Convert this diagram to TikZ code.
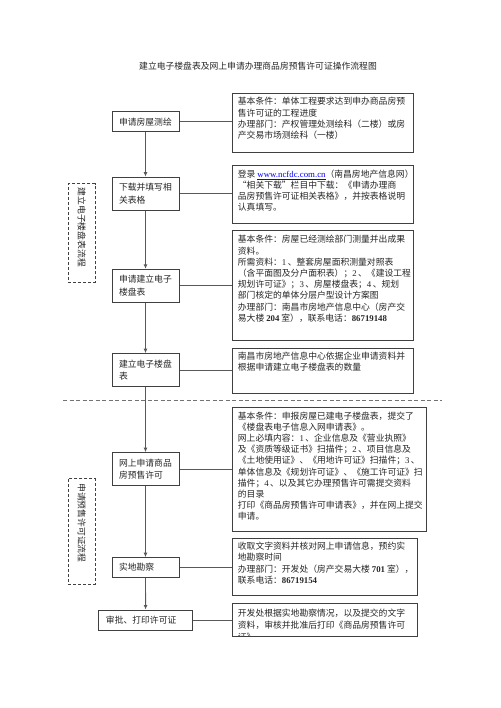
\documentclass[tikz,border=0pt]{standalone}
\usepackage{fontspec}
\setmainfont{Noto Sans CJK SC}
\newfontfamily\tnr{Liberation Serif}
\usetikzlibrary{arrows.meta}
\newcommand\nm[1]{{\tnr #1}}
\newcommand\bnm[1]{{\tnr\bfseries #1}}
\begin{document}
\begin{tikzpicture}[x=1pt,y=-1pt,
  every node/.style={font=\fontsize{8.8}{11.2}\selectfont, text=black!85},
  lbox/.style={draw=black!75, line width=1pt, inner xsep=7pt, inner ysep=0pt, text width=53pt, align=left, font=\fontsize{8.8}{12.5}\selectfont},
  rbox/.style={draw=black!75, line width=1pt, anchor=north west, inner sep=0pt},
  rtext/.style={anchor=north west, align=left, inner sep=0pt},
  link/.style={draw=black!65, line width=0.9pt},
  arr/.style={link, -{Latex[length=4.5pt,width=4pt]}},
  dbox/.style={draw=black!75, line width=0.9pt, dash pattern=on 3pt off 2pt, inner sep=0pt},
  sepline/.style={draw=black!55, line width=0.8pt, dash pattern=on 4pt off 2.5pt},
]
\useasboundingbox (0,0) rectangle (500,708);
\fill[white] (0,0) rectangle (500,708);

% title
\node (title) at (258,65.7) {建立电子楼盘表及网上申请办理商品房预售许可证操作流程图};

% left boxes
\node[lbox, minimum height=20pt] (L1) at (145.5,121.7) {申请房屋测绘};
\node[lbox, minimum height=33pt] (L2) at (145.5,193.6) {下载并填写相\\关表格};
\node[lbox, minimum height=33pt] (L3) at (145.5,285.8) {申请建立电子\\楼盘表};
\node[lbox, minimum height=33pt] (L4) at (145.5,370.2) {建立电子楼盘\\表};
\node[lbox, minimum height=32.6pt] (L5) at (145.5,469) {网上申请商品\\房预售许可};
\node[lbox, minimum height=19.6pt] (L6) at (145.5,567.5) {实地勘察};
\node[lbox, minimum height=20pt, text width=79.3pt] (L7) at (145.6,620) {审批、打印许可证};

% right boxes
\node[rbox, minimum width=181pt, minimum height=59pt] (R1) at (231.7,92.7) {};
\node[rbox, minimum width=181pt, minimum height=57.7pt] (R2) at (231.7,165) {};
\node[rbox, minimum width=181pt, minimum height=109.5pt] (R3) at (231.7,230.5) {};
\node[rbox, minimum width=181pt, minimum height=45pt] (R4) at (231.7,348.3) {};
\node[rbox, minimum width=193.8pt, minimum height=123.7pt] (R5) at (231.7,407.3) {};
\node[rbox, minimum width=185pt, minimum height=56.7pt] (R6) at (231.7,538.3) {};
\node[rbox, minimum width=185.3pt, minimum height=32.7pt] (R7) at (231.7,603.3) {};

\node[rtext] (R1t) at (237.7,97.2) {基本条件：单体工程要求达到申办商品房预\\售许可证的工程进度\\办理部门：产权管理处测绘科（二楼）或房\\产交易市场测绘科（一楼）};
\node[rtext] (R2t) at (237.7,169.5) {登录 \textcolor{blue}{\underline{\tnr www.ncfdc.com.cn}}（南昌房地产信息网）\\“相关下载”栏目中下载：《申请办理商\\品房预售许可证相关表格》，并按表格说明\\认真填写。};
\node[rtext] (R3t) at (237.7,235.2) {基本条件：房屋已经测绘部门测量并出成果\\资料。\\所需资料：\nm{1}\,、整套房屋面积测量对照表\\（含平面图及分户面积表）；\nm{2}\,、《建设工程\\规划许可证》；\nm{3}\,、房屋楼盘表；\nm{4}\,、规划\\部门核定的单体分层户型设计方案图\\办理部门：南昌市房地产信息中心（房产交\\易大楼 \bnm{204} 室），联系电话：\bnm{86719148}};
\node[rtext] (R4t) at (237.7,352) {南昌市房地产信息中心依据企业申请资料并\\根据申请建立电子楼盘表的数量};
\node[rtext] (R5t) at (237.7,411.5) {基本条件：申报房屋已建电子楼盘表，提交了\\《楼盘表电子信息入网申请表》。\\网上必填内容：\nm{1}\,、企业信息及《营业执照》\\及《资质等级证书》扫描件；\nm{2}\,、项目信息及\\《土地使用证》、《用地许可证》扫描件；\nm{3}\,、\\单体信息及《规划许可证》、《施工许可证》扫\\描件；\nm{4}\,、以及其它办理预售许可需提交资料\\的目录\\打印《商品房预售许可申请表》，并在网上提交\\申请。};
\node[rtext] (R6t) at (237.7,542) {收取文字资料并核对网上申请信息，预约实\\地勘察时间\\办理部门：开发处（房产交易大楼 \bnm{701} 室），\\联系电话：\bnm{86719154}};
\begin{scope}
\clip (232.2,603.8) rectangle (416.5,635.5);
\node[rtext, font=\fontsize{8.8}{12}\selectfont] (R7t) at (237.7,609) {开发处根据实地勘察情况，以及提交的文字\\资料，审核并批准后打印《商品房预售许可\\证》。};
\end{scope}

% connectors
\foreach \i in {1,...,7} {
  \draw[link] (L\i.east) -- (L\i.east -| R\i.west);
}
\draw[arr] (L1.south) -- (L2.north);
\draw[arr] (L2.south) -- (L3.north);
\draw[arr] (L3.south) -- (L4.north);
\draw[arr] (L4.south) -- (L5.north);
\draw[arr] (L5.south) -- (L6.north);
\draw[arr] (L6.south) -- (L7.north);

% separator
\coordinate (sepL) at (63,400);
\coordinate (sepR) at (442,400);
\draw[sepline] (sepL) -- (sepR);

% dashed side boxes
\node[dbox, minimum width=26.7pt, minimum height=98.7pt] (D1) at (81.7,233.3) {};
\node[rotate=-90, anchor=west, inner sep=0pt] (D1t) at (81.7,187.5) {建立电子楼盘表流程};
\node[dbox, minimum width=26.7pt, minimum height=105.7pt] (D2) at (81.7,531.2) {};
\node[rotate=-90, anchor=west, inner sep=0pt] (D2t) at (81.7,483) {申请预售许可证流程};
\end{tikzpicture}
\end{document}
